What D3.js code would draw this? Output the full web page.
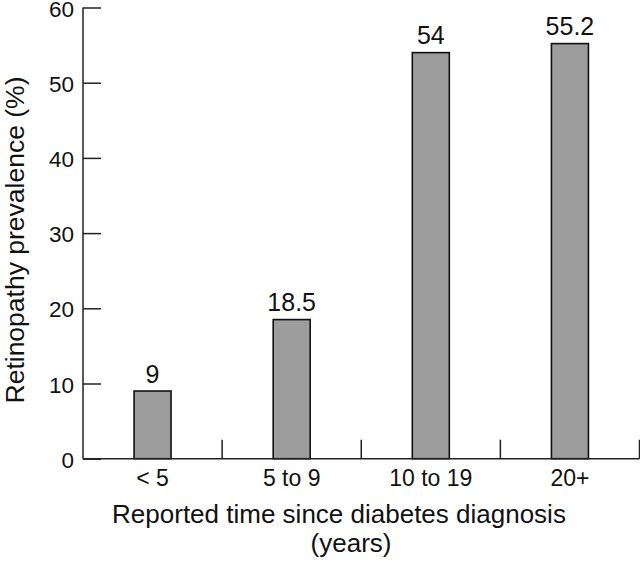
<!DOCTYPE html>
<html>
<head>
<meta charset="utf-8">
<script src="https://cdn.jsdelivr.net/npm/d3@7"></script>
<style>
  body { margin: 0; background: #fff; }
  text { font-family: "Liberation Sans", Arial, sans-serif; fill: #111; }
</style>
</head>
<body>
<div id="container"></div>
<script>
let w = 640;
let h = 561;

// data
let categories = ['< 5', '5 to 9', '10 to 19', '20+'];
let values = [9, 18.5, 54, 55.2];
let valueLabels = ['9', '18.5', '54', '55.2'];
let yTicks = [0, 10, 20, 30, 40, 50, 60];

let plotLeft = 83;
let plotRight = 639.5;
let plotTop = 7.5;
let plotBottom = 458.7;

let viz = d3.select('#container')
  .append('svg')
    .attr('width', w)
    .attr('height', h)
    .style('background-color', 'white')
;

let xScale = d3.scaleBand().domain(categories).range([plotLeft, plotRight]);
let yScale = d3.scaleLinear().domain([0, 60]).range([plotBottom, plotTop]);

let barW = 37;

// bars
viz.append('g').selectAll('rect').data(values).enter().append('rect')
  .attr('x', function(d, i){ return xScale(categories[i]) + xScale.bandwidth() / 2 - barW / 2 })
  .attr('y', function(d){ return yScale(d) })
  .attr('width', barW)
  .attr('height', function(d){ return plotBottom - yScale(d) })
  .attr('fill', '#9d9d9d')
  .attr('stroke', '#111')
  .attr('stroke-width', 1.6)
;

// value labels
viz.append('g').selectAll('text').data(values).enter().append('text')
  .attr('x', function(d, i){ return xScale(categories[i]) + xScale.bandwidth() / 2 })
  .attr('y', function(d){ return yScale(d) - 8.5 })
  .attr('text-anchor', 'middle')
  .attr('font-size', '25px')
  .text(function(d, i){ return valueLabels[i] })
;

// y axis, ticks pointing inward
let yAxis = d3.axisRight(yScale).tickValues(yTicks).tickSize(18).tickFormat('');
let yAxisGroup = viz.append('g')
  .attr('transform', 'translate(' + plotLeft + ',0)')
  .call(yAxis);
yAxisGroup.select('.domain').attr('d', 'M0,' + plotTop + 'V' + plotBottom);
yAxisGroup.selectAll('line, path').attr('stroke', '#222').attr('stroke-width', 1.5);

viz.append('g').selectAll('text').data(yTicks).enter().append('text')
  .attr('x', 74)
  .attr('y', function(d){ return yScale(d) + 9 })
  .attr('text-anchor', 'end')
  .attr('font-size', '22.5px')
  .text(function(d){ return d })
;

// x axis, tick marks between categories
let xAxisGroup = viz.append('g');
xAxisGroup.append('line')
  .attr('x1', plotLeft).attr('x2', plotRight)
  .attr('y1', plotBottom).attr('y2', plotBottom)
  .attr('stroke', '#222').attr('stroke-width', 1.5);
xAxisGroup.selectAll('line.sep').data(categories).enter().append('line')
  .attr('class', 'sep')
  .attr('x1', function(d){ return xScale(d) + xScale.bandwidth() })
  .attr('x2', function(d){ return xScale(d) + xScale.bandwidth() })
  .attr('y1', plotBottom).attr('y2', plotBottom - 19)
  .attr('stroke', '#222').attr('stroke-width', 1.5);
xAxisGroup.selectAll('text').data(categories).enter().append('text')
  .attr('x', function(d){ return xScale(d) + xScale.bandwidth() / 2 })
  .attr('y', 486)
  .attr('text-anchor', 'middle')
  .attr('font-size', '23px')
  .text(function(d){ return d })
;

// axis titles
viz.append('text')
  .attr('x', 339)
  .attr('y', 523)
  .attr('text-anchor', 'middle')
  .attr('font-size', '26px')
  .text('Reported time since diabetes diagnosis');
viz.append('text')
  .attr('x', 351)
  .attr('y', 552)
  .attr('text-anchor', 'middle')
  .attr('font-size', '26px')
  .text('(years)');

viz.append('text')
  .attr('transform', 'translate(24,240) rotate(-90)')
  .attr('text-anchor', 'middle')
  .attr('font-size', '26.5px')
  .text('Retinopathy prevalence (%)');
</script>
</body>
</html>
